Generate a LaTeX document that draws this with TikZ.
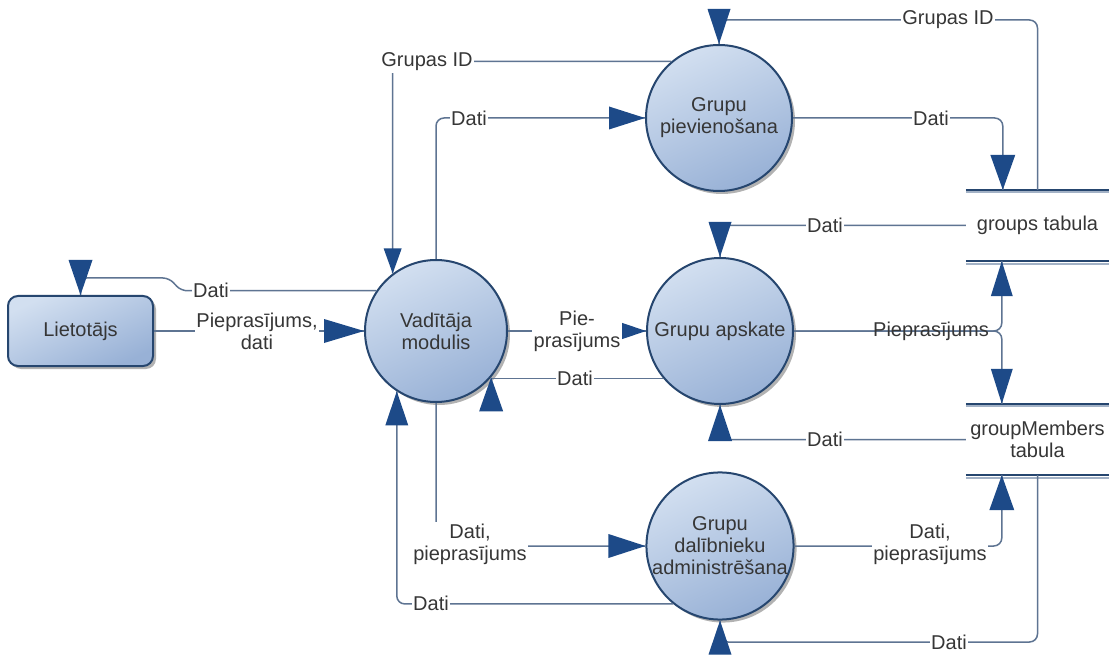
\documentclass[tikz,border=0pt]{standalone}
\usepackage{fontspec}
\setmainfont{Liberation Sans}
\usetikzlibrary{shadows,calc}

\definecolor{flowline}{HTML}{5E7492}
\definecolor{headblue}{HTML}{1D4A88}
\definecolor{rimblue}{HTML}{26466F}
\definecolor{bubtop}{HTML}{D2DFF0}
\definecolor{bubbot}{HTML}{98B1D6}
\definecolor{inktext}{HTML}{363636}
\definecolor{storeshade}{HTML}{A3B2C6}

\newcommand\dfdfont{\fontsize{20}{22}\selectfont}

\begin{document}
\begin{tikzpicture}[x=1pt,y=-1pt,
  every node/.style={font=\dfdfont, text=inktext},
  proc/.style={circle, draw=rimblue, line width=2pt, minimum size=146pt,
    inner sep=0pt, align=center, top color=bubtop, bottom color=bubbot,
    shading angle=25,
    drop shadow={shadow xshift=3pt, shadow yshift=-3pt, opacity=.3, fill=black}},
  entity/.style={rectangle, rounded corners=10pt, draw=rimblue, line width=2pt,
    minimum width=145pt, minimum height=70pt, top color=bubtop,
    bottom color=bubbot, shading angle=25,
    drop shadow={shadow xshift=3pt, shadow yshift=-3pt, opacity=.3, fill=black}},
  store/.style={rectangle, minimum width=143pt, minimum height=71pt,
    inner sep=0pt, align=center},
  storerule/.style={draw=rimblue, line width=2.5pt},
  storeunder/.style={draw=storeshade, line width=2pt},
  lab/.style={fill=white, inner sep=1.5pt, align=center},
  flow/.style={draw=flowline, line width=1.5pt, rounded corners=8pt},
  pics/head/.style args={#1/#2}{code={
    \fill[headblue] (0,0) -- (-#1,#2/2) -- (-#1,-#2/2) -- cycle;}}
]
\fill[white] (0,0) rectangle (1109,655);
\useasboundingbox (0,0) rectangle (1109,655);

% processes, external entity and data stores
\node[entity] (liet) at (80.5,331) {Lietotājs};
\node[proc, minimum size=142pt] (vad) at (436,331) {Vadītāja\\modulis};
\node[proc] (piev) at (719,118) {Grupu\\pievienošana};
\node[proc] (aps) at (720,331) {Grupu apskate};
\node[proc] (adm) at (720,546) {Grupu\\dalībnieku\\administrēšana};

\node[store] (gt) at (1037.5,225.5) {groups tabula};
\node[store] (gm) at (1037.5,439.5) {groupMembers\\tabula};
\foreach \s in {gt,gm}{
  \draw[storeunder] ([yshift=-2.5pt]\s.north west) -- ([yshift=-2.5pt]\s.north east);
  \draw[storeunder] ([yshift=-2.5pt]\s.south west) -- ([yshift=-2.5pt]\s.south east);
  \draw[storerule] (\s.north west) -- (\s.north east);
  \draw[storerule] (\s.south west) -- (\s.south east);
}

\coordinate (gtin) at ($(gt.north west)+(37,0)$);
\coordinate (gtout) at ($(gt.south west)+(36,0)$);
\coordinate (gmin) at ($(gm.north west)+(36,0)$);
\coordinate (gmout) at ($(gm.south west)+(36,0)$);

% user <-> module
\draw[flow] (liet.east) -- (vad.west);
\draw[flow, rounded corners=6pt] (vad.146) -- (vad.146 -| 181,0) -- (169,278)
  -- (liet.north |- 0,278) -- (liet.north);

% module <-> group creation
\draw[flow] (piev.130) -- (piev.130 -| vad.127) -- (vad.127);
\draw[flow] (vad.north) -- (vad.north |- piev.west) -- (piev.west);
\draw[flow] (gt.north) -- (gt.north |- 0,20) -- (piev.north |- 0,20) -- (piev.north);
\draw[flow] (piev.east) -- (piev.east -| gtin) -- (gtin);

% group overview
\draw[flow] (gt.west) -- (gt.west -| aps.north) -- (aps.north);
\draw[flow] (vad.east) -- (aps.west);
\draw[flow] (aps.220) -- (aps.220 -| vad.320);
\draw[flow] (gm.west) -- (gm.west -| aps.south) -- (aps.south);
\draw[flow] (aps.east) -- (aps.east -| gtout) -- (gtout);
\draw[flow] (aps.east) -- (aps.east -| gmin) -- (gmin);

% member administration
\draw[flow] (vad.south) -- (vad.south |- adm.west) -- (adm.west);
\draw[flow] (adm.231) -- (adm.231 -| vad.237) -- (vad.237);
\draw[flow] (adm.east) -- (adm.east -| gmout) -- (gmout);
\draw[flow] (gm.south) -- (gm.south |- 0,642) -- (adm.south |- 0,642) -- (adm.south);

% arrowheads
\pic at (vad.west) {head=40/24};
\pic[rotate=-90] at (liet.north) {head=35/24};
\pic[rotate=-90] at (vad.127) {head=25/18};
\pic at (piev.west) {head=36/23};
\pic[rotate=-90] at (piev.north) {head=35/23};
\pic[rotate=-90] at (gtin) {head=35/25};
\pic[rotate=-90] at (aps.north) {head=35/23};
\pic at (aps.west) {head=25/17};
\pic[rotate=90] at (vad.320) {head=34/24};
\pic[rotate=90] at (aps.south) {head=36/24};
\pic[rotate=90] at (gtout) {head=35/22};
\pic[rotate=-90] at (gmin) {head=35/22};
\pic at (adm.west) {head=37/24};
\pic[rotate=90] at (vad.237) {head=34/23};
\pic[rotate=90] at (gmout) {head=35/25};
\pic[rotate=90] at (adm.south) {head=34/23};

% flow labels
\node[lab] (l1) at (257,331) {Pieprasījums,\\dati};
\node[lab] (l2) at (211,290) {Dati};
\node[lab] (l3) at (427,62) {Grupas ID};
\node[lab] (l4) at (469,118) {Dati};
\node[lab] (l5) at (948,20) {Grupas ID};
\node[lab] (l6) at (931,118) {Dati};
\node[lab] (l7) at (825,225) {Dati};
\node[lab] (l8) at (577,331) {Pie-\\prasījums};
\node[lab] (l9) at (575,378) {Dati};
\node[lab] (l10) at (825,439) {Dati};
\node[align=center] (l11) at (931,331) {Pieprasījums};
\node[lab] (l12) at (470,544) {Dati,\\pieprasījums};
\node[lab] (l13) at (431,603) {Dati};
\node[lab] (l14) at (930,544) {Dati,\\pieprasījums};
\node[lab] (l15) at (949,642) {Dati};
\end{tikzpicture}
\end{document}
